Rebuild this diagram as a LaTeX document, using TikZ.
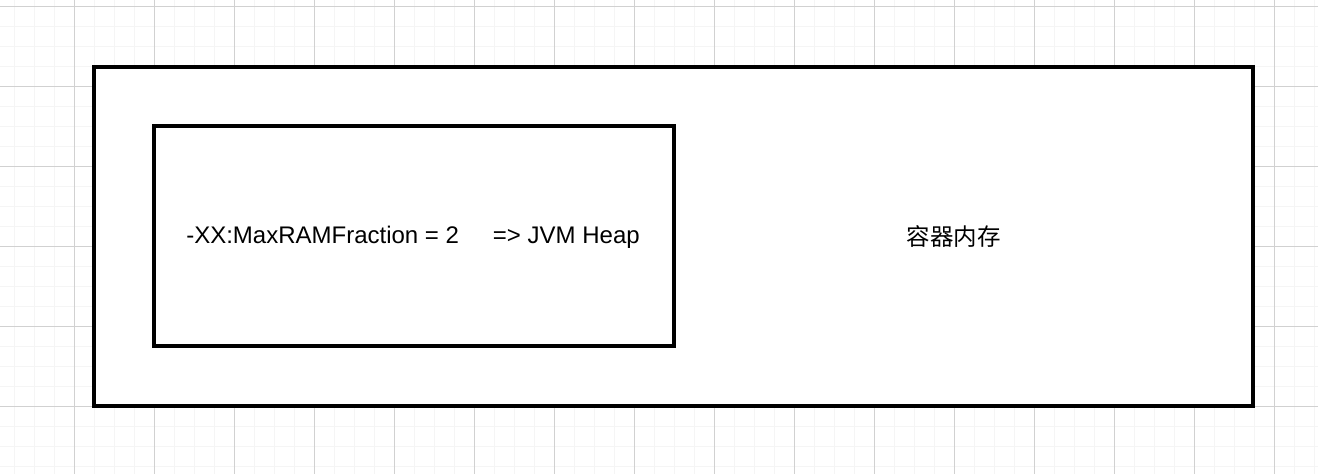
\documentclass[tikz,border=0pt]{standalone}
\usepackage{fontspec}
\setmainfont{Liberation Sans}
\newfontfamily\cjkfont{Noto Sans CJK SC}

\tikzset{
  box/.style={draw=black, line width=3.5pt, rectangle, inner sep=0pt},
  label text/.style={font=\fontsize{24}{28}\selectfont, inner sep=0pt}
}

\begin{document}
\begin{tikzpicture}[x=1pt, y=-1pt]
\useasboundingbox (0,0) rectangle (1318,474);
\fill[white] (0,0) rectangle (1318,474);

% background grid
\foreach \x in {14,34,...,1314} {
    \draw[black!4, line width=1pt] (\x,0) -- (\x,474);
}
\foreach \y in {6,26,...,466} {
    \draw[black!4, line width=1pt] (0,\y) -- (1318,\y);
}
\foreach \x in {74,154,...,1274} {
    \draw[black!18, line width=1pt] (\x,0) -- (\x,474);
}
\foreach \y in {6,86,...,406} {
    \draw[black!18, line width=1pt] (0,\y) -- (1318,\y);
}

% container memory
\node[box, fill=white, minimum width=1159pt, minimum height=339pt] (container) at (673.5,236.5) {};
% JVM heap
\node[box, fill=white, minimum width=520pt, minimum height=220pt] (heap) at (414,236) {};

% texts
\node[label text] (heaptext) at (413,237) {-XX:MaxRAMFraction = 2\hspace{34pt}=> JVM Heap};
\node[label text, font=\cjkfont\fontsize{23.5}{28}\selectfont] (containertext) at (953.5,237) {容器内存};

\end{tikzpicture}
\end{document}
